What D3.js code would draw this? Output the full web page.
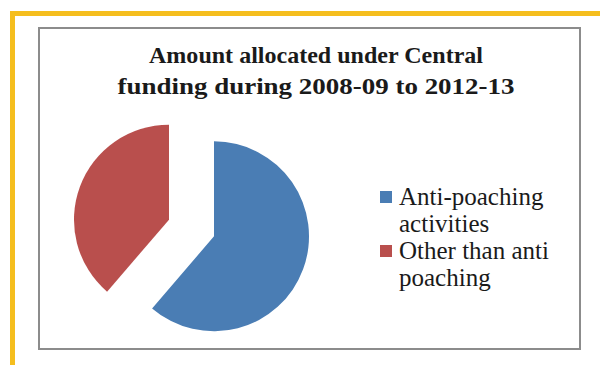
<!DOCTYPE html>
<html>
<head>
<meta charset="utf-8">
<script src="https://cdn.jsdelivr.net/npm/d3@7"></script>
<style>
  body { margin: 0; background: #fff; }
  svg { display: block; }
</style>
</head>
<body>
<svg id="chart"></svg>
<script>
// data (shares in %)
const categories = ["Anti-poaching activities", "Other than anti poaching"];
const values = [61.3, 38.7];
const legendLines = [["Anti-poaching", "activities"], ["Other than anti", "poaching"]];
const titleLines = ["Amount allocated under Central", "funding during 2008-09 to 2012-13"];
const colors = ["#4a7db4", "#b94f4d"];

const width = 600, height = 365;
const svg = d3.select("#chart").attr("width", width).attr("height", height);

// orange page frame
svg.append("rect").attr("x", 10).attr("y", 11).attr("width", 600).attr("height", 5).attr("fill", "#f5be1e");
svg.append("rect").attr("x", 10).attr("y", 11).attr("width", 5).attr("height", 360).attr("fill", "#f5be1e");

// chart area border
svg.append("rect")
  .attr("x", 39).attr("y", 28).attr("width", 541).attr("height", 321)
  .attr("fill", "#fff").attr("stroke", "#8c8c8c").attr("stroke-width", 2);

// title
const titleWidths = [334, 397];
svg.append("g").selectAll("text").data(titleLines).enter().append("text")
  .attr("x", 316).attr("y", (d, i) => 63 + i * 31)
  .attr("text-anchor", "middle")
  .attr("textLength", (d, i) => titleWidths[i])
  .attr("lengthAdjust", "spacingAndGlyphs")
  .style("font-family", "'Liberation Serif', serif")
  .style("font-weight", "bold")
  .style("font-size", "24px")
  .style("fill", "#1a1a1a")
  .text(d => d);

// pie
const radius = 95, explode = 24;
const cx = 191.5, cy = 228;
const pie = d3.pie().sort(null).value(d => d);
const arc = d3.arc().innerRadius(0).outerRadius(radius);

const g = svg.append("g").attr("transform", `translate(${cx},${cy})`);
g.selectAll("path")
  .data(pie(values))
  .enter().append("path")
  .attr("transform", d => {
    const a = (d.startAngle + d.endAngle) / 2;
    return `translate(${explode * Math.sin(a)},${-explode * Math.cos(a)})`;
  })
  .attr("d", arc)
  .attr("fill", (d, i) => colors[i]);

// legend
const legend = svg.append("g");
const items = legend.selectAll("g").data(categories).enter().append("g")
  .attr("transform", (d, i) => `translate(380,${191 + i * 54})`);
items.append("rect").attr("width", 12).attr("height", 12).attr("fill", (d, i) => colors[i]);
items.append("text")
  .attr("x", 19).attr("y", 14)
  .style("font-family", "'Liberation Serif', serif")
  .style("font-size", "25px")
  .style("fill", "#1a1a1a")
  .selectAll("tspan").data((d, i) => legendLines[i]).enter().append("tspan")
  .attr("x", 19).attr("dy", (d, i) => i ? 27 : 0)
  .text(d => d);
</script>
</body>
</html>
